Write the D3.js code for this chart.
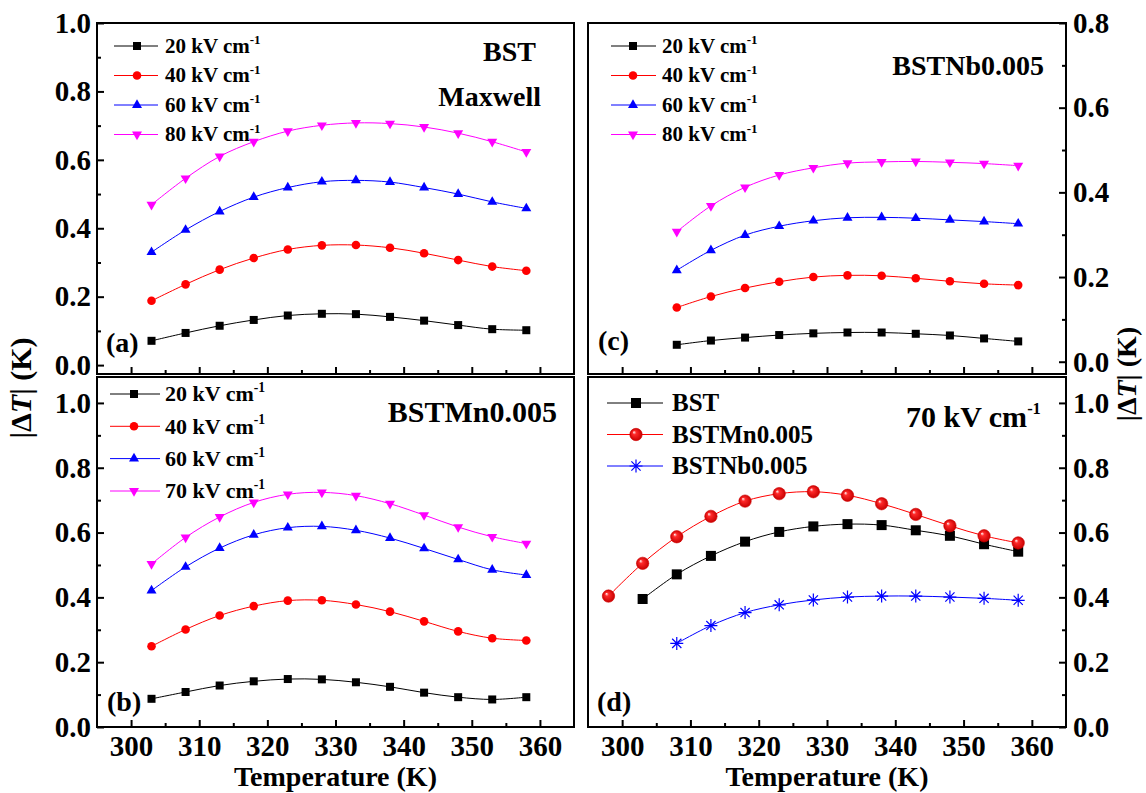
<!DOCTYPE html>
<html>
<head>
<meta charset="utf-8">
<script src="https://cdn.jsdelivr.net/npm/d3@7"></script>
<style>
  body { margin: 0; background: #fff; }
  text { font-family: "Liberation Serif", "Times New Roman", serif; font-weight: bold; fill: #000; }
</style>
</head>
<body>
<div id="chart"></div>
<script>
const width = 1146;
const height = 793;

// Temperature (K) grid used by every panel
const xDomain = [295, 365];
const xTicks = [300, 310, 320, 330, 340, 350, 360];
const xMinor = [305, 315, 325, 335, 345, 355];

const tempAB = [303, 308, 313, 318, 323, 328, 333, 338, 343, 348, 353, 358];
const tempC = [308, 313, 318, 323, 328, 333, 338, 343, 348, 353, 358];
const tempDMn = [298, 303, 308, 313, 318, 323, 328, 333, 338, 343, 348, 353, 358];
const tempDBst = [303, 308, 313, 318, 323, 328, 333, 338, 343, 348, 353, 358];
const tempDNb = [308, 313, 318, 323, 328, 333, 338, 343, 348, 353, 358];

// (a) BST, Maxwell
const bst20 = [0.071, 0.094, 0.115, 0.132, 0.145, 0.150, 0.149, 0.141, 0.130, 0.117, 0.105, 0.102];
const bst40 = [0.188, 0.236, 0.279, 0.313, 0.338, 0.350, 0.351, 0.343, 0.327, 0.307, 0.288, 0.276];
const bst60 = [0.330, 0.395, 0.449, 0.491, 0.519, 0.536, 0.540, 0.535, 0.519, 0.500, 0.477, 0.458];
const bst80 = [0.469, 0.546, 0.610, 0.653, 0.684, 0.701, 0.708, 0.706, 0.696, 0.678, 0.653, 0.623];

// (b) BSTMn0.005
const mn20 = [0.087, 0.108, 0.128, 0.141, 0.148, 0.147, 0.138, 0.124, 0.106, 0.092, 0.085, 0.092];
const mn40 = [0.249, 0.301, 0.344, 0.373, 0.390, 0.391, 0.378, 0.356, 0.326, 0.295, 0.274, 0.267];
const mn60 = [0.421, 0.494, 0.552, 0.593, 0.615, 0.619, 0.607, 0.583, 0.551, 0.517, 0.485, 0.469];
const mn70 = [0.503, 0.585, 0.648, 0.693, 0.718, 0.724, 0.714, 0.689, 0.654, 0.617, 0.587, 0.566];

// (c) BSTNb0.005
const nb20 = [0.040, 0.050, 0.057, 0.063, 0.067, 0.069, 0.069, 0.066, 0.062, 0.055, 0.048];
const nb40 = [0.128, 0.154, 0.174, 0.189, 0.200, 0.204, 0.203, 0.197, 0.190, 0.184, 0.181];
const nb60 = [0.216, 0.263, 0.299, 0.320, 0.333, 0.340, 0.341, 0.339, 0.335, 0.331, 0.326];
const nb80 = [0.307, 0.368, 0.412, 0.441, 0.458, 0.469, 0.472, 0.473, 0.471, 0.468, 0.463];

// (d) comparison at 70 kV/cm
const cmpBst = [0.395, 0.471, 0.528, 0.572, 0.602, 0.619, 0.626, 0.623, 0.607, 0.590, 0.564, 0.541];
const cmpMn = [0.404, 0.505, 0.587, 0.650, 0.697, 0.720, 0.726, 0.715, 0.689, 0.656, 0.621, 0.590, 0.568];
const cmpNb = [0.258, 0.313, 0.353, 0.377, 0.392, 0.401, 0.404, 0.404, 0.401, 0.397, 0.391];

const fieldsA = ["20", "40", "60", "80"];
const fieldsB = ["20", "40", "60", "70"];
const samplesD = ["BST", "BSTMn0.005", "BSTNb0.005"];

const yTicks10 = [0, 0.2, 0.4, 0.6, 0.8, 1.0];
const yMinor10 = [0.1, 0.3, 0.5, 0.7, 0.9];
const yTicks08 = [0, 0.2, 0.4, 0.6, 0.8];
const yMinor08 = [0.1, 0.3, 0.5, 0.7];

const colors = ["#000000", "#ff0000", "#0000ff", "#ff00ff"];
const tickFont = 29;

const svg = d3.select('#chart')
  .append('svg')
  .attr('width', width)
  .attr('height', height);

// shiny red ball for panel (d)
const grad = svg.append('defs').append('radialGradient')
  .attr('id', 'ball').attr('cx', '50%').attr('cy', '50%').attr('r', '50%')
  .attr('fx', '32%').attr('fy', '30%');
grad.append('stop').attr('offset', '0%').attr('stop-color', '#ffffff');
grad.append('stop').attr('offset', '30%').attr('stop-color', '#ff2a2a');
grad.append('stop').attr('offset', '100%').attr('stop-color', '#c80000');

function series(temps, vals, color, marker, size) {
  return { points: temps.map((t, i) => ({ t: t, v: vals[i] })), color: color, marker: marker, size: size };
}

const panels = [
  {
    tag: "(a)", x0: 97, x1: 574, y0: 23, y1: 374, yDomain: [-0.026, 1.0],
    yTicks: yTicks10, yMinor: yMinor10, side: "left", xLabels: false,
    series: [
      series(tempAB, bst20, colors[0], "square", 8),
      series(tempAB, bst40, colors[1], "circle", 8.6),
      series(tempAB, bst60, colors[2], "triangle", 10),
      series(tempAB, bst80, colors[3], "triangleDown", 10)
    ],
    legend: { names: fieldsA, unit: true, rows: [46, 75.5, 105, 134.5], lx0: 114, lx1: 158, mx: 137, tx: 165, font: 21 },
    notes: [{ text: "BST", x: 536, y: 61, size: 28 }, { text: "Maxwell", x: 541, y: 106, size: 28 }],
    tagPos: [106, 352]
  },
  {
    tag: "(b)", x0: 97, x1: 574, y0: 377, y1: 727, yDomain: [0, 1.08],
    yTicks: yTicks10, yMinor: yMinor10, side: "left", xLabels: true,
    series: [
      series(tempAB, mn20, colors[0], "square", 8),
      series(tempAB, mn40, colors[1], "circle", 8.6),
      series(tempAB, mn60, colors[2], "triangle", 10),
      series(tempAB, mn70, colors[3], "triangleDown", 10)
    ],
    legend: { names: fieldsB, unit: true, rows: [394, 426.3, 458.6, 491], lx0: 110, lx1: 160, mx: 134, tx: 165, font: 22 },
    notes: [{ text: "BSTMn0.005", x: 557, y: 422, size: 30 }],
    tagPos: [107, 711]
  },
  {
    tag: "(c)", x0: 588, x1: 1066, y0: 23, y1: 374, yDomain: [-0.029, 0.8],
    yTicks: yTicks08, yMinor: yMinor08, side: "right", xLabels: false,
    series: [
      series(tempC, nb20, colors[0], "square", 8),
      series(tempC, nb40, colors[1], "circle", 8.6),
      series(tempC, nb60, colors[2], "triangle", 10),
      series(tempC, nb80, colors[3], "triangleDown", 10)
    ],
    legend: { names: fieldsA, unit: true, rows: [46, 75.5, 105, 134.5], lx0: 611, lx1: 656, mx: 633, tx: 662, font: 21 },
    notes: [{ text: "BSTNb0.005", x: 1044, y: 75, size: 28 }],
    tagPos: [598, 350]
  },
  {
    tag: "(d)", x0: 588, x1: 1066, y0: 377, y1: 727, yDomain: [0, 1.08],
    yTicks: yTicks10, yMinor: yMinor10, side: "right", xLabels: true,
    series: [
      series(tempDBst, cmpBst, colors[0], "square", 10),
      series(tempDMn, cmpMn, colors[1], "ball", 12.4),
      series(tempDNb, cmpNb, colors[2], "asterisk", 13)
    ],
    legend: { names: samplesD, unit: false, rows: [403, 434.5, 466], lx0: 607, lx1: 663, mx: 636, tx: 672, font: 25 },
    notes: [{ text: "70 kV cm", sup: true, x: 906, y: 427, size: 30 }],
    tagPos: [597, 711]
  }
];

function drawMarker(sel, kind, color, size, cx, cy) {
  const g = sel.append('g').attr('transform', `translate(${cx},${cy})`);
  if (kind === "square") {
    g.append('rect').attr('x', -size / 2).attr('y', -size / 2)
      .attr('width', size).attr('height', size).attr('fill', color);
  } else if (kind === "circle") {
    g.append('circle').attr('r', size / 2).attr('fill', color);
  } else if (kind === "ball") {
    g.append('circle').attr('r', size / 2).attr('fill', 'url(#ball)')
      .attr('stroke', '#d00000').attr('stroke-width', 0.6);
  } else if (kind === "triangle" || kind === "triangleDown") {
    const area = Math.sqrt(3) / 4 * size * size;
    g.append('path').attr('d', d3.symbol(d3.symbolTriangle, area)())
      .attr('fill', color)
      .attr('transform', kind === "triangleDown" ? 'rotate(180)' : null);
  } else if (kind === "asterisk") {
    const r = size / 2;
    const d = r * Math.SQRT1_2;
    g.append('path')
      .attr('d', `M${-r},0L${r},0M0,${-r}L0,${r}M${-d},${-d}L${d},${d}M${-d},${d}L${d},${-d}`)
      .attr('stroke', color).attr('stroke-width', 1.2).attr('fill', 'none');
  }
}

panels.forEach(function (p) {
  const g = svg.append('g');
  const x = d3.scaleLinear().domain(xDomain).range([p.x0, p.x1]);
  const y = d3.scaleLinear().domain(p.yDomain).range([p.y1, p.y0]);

  // y axis, ticks pointing inside
  const yAxisFn = p.side === "left" ? d3.axisLeft : d3.axisRight;
  const yPos = p.side === "left" ? p.x0 : p.x1;
  g.append('g')
    .attr('transform', `translate(${yPos},0)`)
    .call(yAxisFn(y).tickValues(p.yTicks).tickSize(-7).tickPadding(p.side === "left" ? 6 : 7)
      .tickFormat(d3.format(".1f")))
    .call(a => a.select('.domain').remove())
    .call(a => a.selectAll('line').attr('stroke-width', 2))
    .call(a => a.selectAll('text').style('font-size', tickFont + 'px').attr('fill', '#000'));
  g.append('g')
    .attr('transform', `translate(${yPos},0)`)
    .call(yAxisFn(y).tickValues(p.yMinor).tickSize(-4).tickFormat(''))
    .call(a => a.select('.domain').remove())
    .call(a => a.selectAll('line').attr('stroke-width', 2));

  // x axis
  g.append('g')
    .attr('transform', `translate(0,${p.y1})`)
    .call(d3.axisBottom(x).tickValues(xTicks).tickSize(-7).tickPadding(8)
      .tickFormat(p.xLabels ? d3.format("d") : ''))
    .call(a => a.select('.domain').remove())
    .call(a => a.selectAll('line').attr('stroke-width', 2))
    .call(a => a.selectAll('text').style('font-size', tickFont + 'px').attr('fill', '#000'));
  g.append('g')
    .attr('transform', `translate(0,${p.y1})`)
    .call(d3.axisBottom(x).tickValues(xMinor).tickSize(-4).tickFormat(''))
    .call(a => a.select('.domain').remove())
    .call(a => a.selectAll('line').attr('stroke-width', 2));

  // frame
  g.append('rect')
    .attr('x', p.x0).attr('y', p.y0)
    .attr('width', p.x1 - p.x0).attr('height', p.y1 - p.y0)
    .attr('fill', 'none').attr('stroke', '#000').attr('stroke-width', 2);

  // data lines + markers
  const line = d3.line()
    .x(function (d) { return x(d.t); })
    .y(function (d) { return y(d.v); })
    .curve(d3.curveCatmullRom.alpha(0.5));

  p.series.forEach(function (s) {
    g.append('path')
      .attr('d', line(s.points))
      .attr('fill', 'none')
      .attr('stroke', s.color)
      .attr('stroke-width', 1);
    s.points.forEach(function (d) {
      drawMarker(g, s.marker, s.color, s.size, x(d.t), y(d.v));
    });
  });

  // legend
  const L = p.legend;
  L.names.forEach(function (name, i) {
    const s = p.series[i];
    const ry = L.rows[i];
    g.append('line')
      .attr('x1', L.lx0).attr('x2', L.lx1).attr('y1', ry).attr('y2', ry)
      .attr('stroke', s.color).attr('stroke-width', 1);
    drawMarker(g, s.marker, s.color, s.size, L.mx, ry);
    const t = g.append('text')
      .attr('x', L.tx).attr('y', ry + L.font * 0.33)
      .style('font-size', L.font + 'px');
    if (L.unit) {
      t.append('tspan').text(name + ' kV cm');
      t.append('tspan').text('-1').style('font-size', (L.font * 0.62) + 'px').attr('dy', -L.font * 0.42);
    } else {
      t.text(name);
    }
  });

  // annotations
  p.notes.forEach(function (n) {
    const t = g.append('text')
      .attr('x', n.x).attr('y', n.y)
      .attr('text-anchor', n.sup ? 'start' : 'end')
      .style('font-size', n.size + 'px');
    t.append('tspan').text(n.text);
    if (n.sup) {
      t.append('tspan').text('-1').style('font-size', (n.size * 0.55) + 'px').attr('dy', -n.size * 0.45);
    }
  });

  g.append('text')
    .attr('x', p.tagPos[0]).attr('y', p.tagPos[1])
    .style('font-size', '28px')
    .text(p.tag);

  if (p.xLabels) {
    g.append('text')
      .attr('x', (p.x0 + p.x1) / 2).attr('y', 786)
      .attr('text-anchor', 'middle')
      .style('font-size', '28px')
      .text('Temperature (K)');
  }
});

// |ΔT| (K) axis titles on both sides
function yTitle(cx, cy, size) {
  const t = svg.append('text')
    .attr('transform', `translate(${cx},${cy}) rotate(-90)`)
    .attr('text-anchor', 'middle')
    .style('font-size', size + 'px');
  t.append('tspan').text('|\u0394');
  t.append('tspan').text('T').style('font-style', 'italic');
  t.append('tspan').text('| (K)');
}
yTitle(31, 388, 30);
yTitle(1136, 374, 28);
</script>
</body>
</html>
